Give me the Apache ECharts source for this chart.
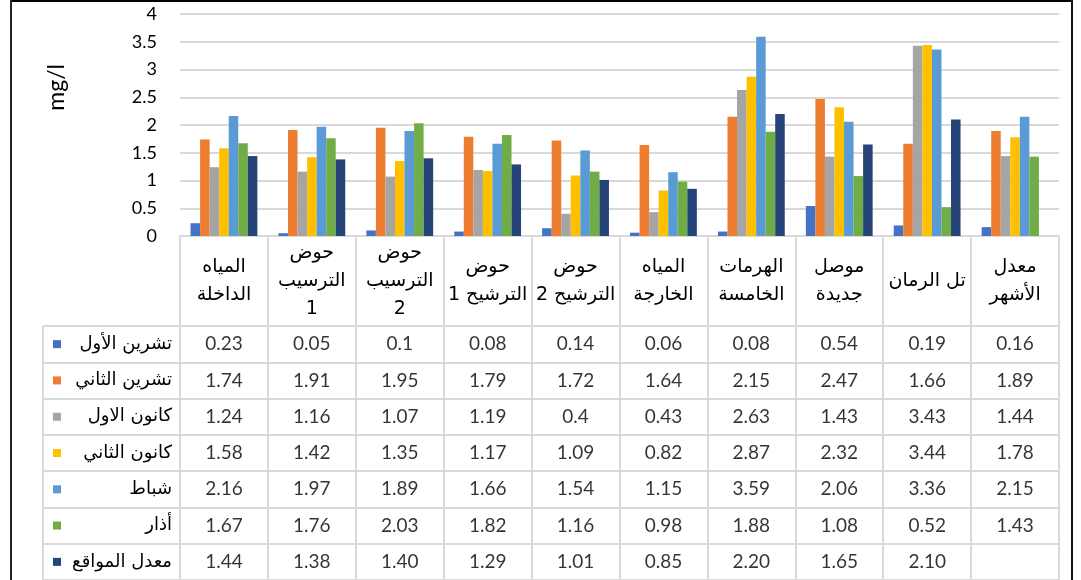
<!DOCTYPE html>
<html><head><meta charset="utf-8">
<script src="https://cdn.jsdelivr.net/npm/echarts@6/dist/echarts.min.js"></script>
<style>html,body{margin:0;padding:0;background:#fff}#c{width:1081px;height:580px}</style>
</head><body><div id="c"></div>
<script>
const categories = ['المياه\nالداخلة', 'حوض\nالترسيب\n1', 'حوض\nالترسيب\n2', 'حوض\nالترشيح 1', 'حوض\nالترشيح 2', 'المياه\nالخارجة', 'الهرمات\nالخامسة', 'موصل\nجديدة', 'تل الرمان', 'معدل\nالأشهر'];
const seriesNames = ['تشرين الأول', 'تشرين الثاني', 'كانون الاول', 'كانون الثاني', 'شباط', 'أذار', 'معدل المواقع'];
const tishreenAwal  = [0.23, 0.05, 0.1, 0.08, 0.14, 0.06, 0.08, 0.54, 0.19, 0.16];
const tishreenThani = [1.74, 1.91, 1.95, 1.79, 1.72, 1.64, 2.15, 2.47, 1.66, 1.89];
const kanunAwal     = [1.24, 1.16, 1.07, 1.19, 0.4, 0.43, 2.63, 1.43, 3.43, 1.44];
const kanunThani    = [1.58, 1.42, 1.35, 1.17, 1.09, 0.82, 2.87, 2.32, 3.44, 1.78];
const shubat        = [2.16, 1.97, 1.89, 1.66, 1.54, 1.15, 3.59, 2.06, 3.36, 2.15];
const adhar         = [1.67, 1.76, 2.03, 1.82, 1.16, 0.98, 1.88, 1.08, 0.52, 1.43];
const siteAverage   = [1.44, 1.38, 1.40, 1.29, 1.01, 0.85, 2.20, 1.65, 2.10, null];
const yTickLabels = ['0', '0.5', '1', '1.5', '2', '2.5', '3', '3.5', '4'];

const seriesValues = [tishreenAwal, tishreenThani, kanunAwal, kanunThani, shubat, adhar, siteAverage];
const colors = ['#4472C4', '#ED7D31', '#A5A5A5', '#FFC000', '#5B9BD5', '#70AD47', '#264478'];
const rowDecimals = [null, null, null, null, null, null, 2];

const latin = "Lato, 'DejaVu Sans', sans-serif";
const arabic = "'DejaVu Sans', sans-serif";
const border = '#D9D9D9';

const rich = { t: { width: 111, align: 'right', fontSize: 18, fontFamily: arabic, color: '#000', verticalAlign: 'middle', lineHeight: 22 } };
colors.forEach((c, i) => { rich['sq' + i] = { width: 8, height: 8, backgroundColor: c, verticalAlign: 'middle' }; });

const cells = [];
seriesValues.forEach((vals, r) => {
  vals.forEach((v, c) => {
    if (v !== null && v !== undefined) cells.push({ value: [c, r, v] });
  });
});

const chart = echarts.init(document.getElementById('c'), null, { renderer: 'canvas' });
chart.setOption({
  animation: false,
  backgroundColor: '#fff',
  grid: [
    { left: 180, width: 879, top: 14, height: 222 },
    { left: 180, width: 879, top: 326, height: 257 },
    { left: 43, width: 137, top: 326, height: 257 }
  ],
  xAxis: [
    {
      type: 'category', gridIndex: 0, data: categories,
      axisLine: { show: true, lineStyle: { color: border, width: 2 } },
      axisTick: { show: true, interval: 0, length: 90, alignWithLabel: false, lineStyle: { color: border, width: 2 } },
      axisLabel: { interval: 0, margin: 45, verticalAlign: 'middle', fontSize: 19, lineHeight: 28, color: '#000', fontFamily: arabic },
      splitLine: { show: false }
    },
    {
      type: 'category', gridIndex: 1, data: categories, position: 'top',
      axisLine: { show: false }, axisTick: { show: false }, axisLabel: { show: false },
      splitLine: { show: true, interval: 0, lineStyle: { color: border, width: 2 } }
    },
    {
      type: 'category', gridIndex: 2, data: [''],
      axisLine: { show: false }, axisTick: { show: false }, axisLabel: { show: false },
      splitLine: { show: true, interval: 0, lineStyle: { color: border, width: 2 } }
    }
  ],
  yAxis: [
    {
      type: 'value', gridIndex: 0, min: 0, max: 4, interval: 0.5,
      axisLine: { show: false }, axisTick: { show: false },
      axisLabel: { margin: 23, fontSize: 18, color: '#000', fontFamily: latin,
        formatter: (v) => yTickLabels[Math.round(v / 0.5)] },
      splitLine: { show: true, lineStyle: { color: border, width: 2 } }
    },
    {
      type: 'category', gridIndex: 1, data: seriesNames, inverse: true,
      axisLine: { show: false }, axisTick: { show: false },
      axisLabel: { margin: 8, formatter: (v, i) => '{sq' + i + '|}{t|' + v + '}', rich: rich },
      splitLine: { show: true, interval: 0, lineStyle: { color: border, width: 2 } }
    },
    {
      type: 'category', gridIndex: 2, data: seriesNames, inverse: true,
      axisLine: { show: false }, axisTick: { show: false }, axisLabel: { show: false },
      splitLine: { show: true, interval: 0, lineStyle: { color: border, width: 2 } }
    }
  ],
  series: seriesNames.map((name, i) => ({
    type: 'bar', name: name, xAxisIndex: 0, yAxisIndex: 0,
    data: seriesValues[i], barGap: 0, barCategoryGap: '24%',
    itemStyle: { color: colors[i] }
  })).concat([{
    type: 'scatter', name: 'table', xAxisIndex: 1, yAxisIndex: 1,
    symbolSize: 0, data: cells,
    label: {
      show: true, position: 'inside', fontSize: 19, color: '#000', fontFamily: latin,
      formatter: (p) => {
        const d = rowDecimals[p.value[1]];
        return d === null ? String(p.value[2]) : p.value[2].toFixed(d);
      }
    }
  }]),
  graphic: [
    { type: 'text', left: 45, top: 64, rotation: Math.PI / 2,
      style: { text: 'mg/l', fontSize: 23, fontFamily: latin, fill: '#000' } },
    { type: 'rect', shape: { x: 11, y: 0, width: 1062, height: 2 }, style: { fill: '#000' } },
    { type: 'rect', shape: { x: 10, y: 0, width: 2, height: 580 }, style: { fill: '#222' } },
    { type: 'rect', shape: { x: 1071, y: 0, width: 2, height: 580 }, style: { fill: '#111' } }
  ]
});
</script>
</body></html>
